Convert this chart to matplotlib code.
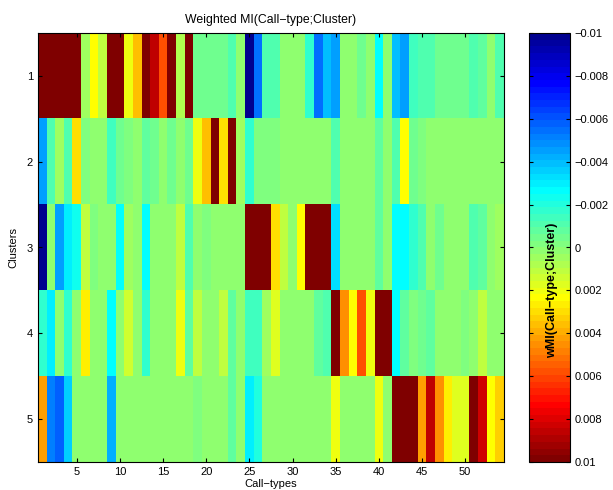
import numpy as np
import matplotlib
matplotlib.use('Agg')
import matplotlib.pyplot as plt
from matplotlib.colors import ListedColormap

plt.rcParams['font.family'] = ['Liberation Sans', 'DejaVu Sans']
plt.rcParams['font.size'] = 8

# weighted MI per cluster (rows) and call-type (columns 1..54)
call_types = np.arange(1, 55)
clusters = [1, 2, 3, 4, 5]

row1 = [0.01, 0.01, 0.01, 0.01, 0.01, 0.0004, 0.0023, 0.001, 0.01, 0.01,
        0.0019, 0.0036, 0.01, 0.0087, 0.0058, 0.01, 0.0008, 0.01, -0.0006, -0.0006,
        -0.0006, -0.0006, -0.0012, 0.0002, -0.01, -0.0055, -0.0012, -0.0011, 0, 0,
        0, -0.0017, -0.0055, -0.0039, -0.0046, 0.0002, 0, -0.0006, 0.0002, -0.0026,
        0.0001, -0.0039, -0.0046, -0.0014, -0.0011, -0.0011, -0.0006, -0.0006, -0.0006, -0.0006,
        -0.0012, -0.0008, 0.0002, -0.001]
row2 = [-0.0045, -0.0011, 0.0004, -0.0011, 0.003, -0.0002, 0, 0, -0.0014, -0.0005,
        -0.0002, 0, -0.0008, -0.0004, 0, -0.0005, 0, -0.0005, 0.002, 0.0036,
        0.01, 0.003, 0.01, 0.0006, -0.0017, -0.0003, -0.0003, -0.0002, 0, 0,
        0, 0, 0, 0, -0.0011, 0, 0, 0, 0, -0.0008,
        0, -0.0011, 0.0023, -0.0005, -0.0003, 0, 0, 0, 0, 0,
        0, 0, 0, 0]
row3 = [-0.0098, 0, -0.0046, -0.003, -0.0023, 0.0011, -0.0003, 0, 0, -0.0026,
        0.0004, 0, -0.0026, 0, 0, 0, 0.001, -0.0011, 0, -0.0003,
        0, 0, 0, 0, 0.01, 0.01, 0.01, 0.003, 0.0011, 0,
        0.0023, 0.01, 0.01, 0.01, -0.0033, 0, 0, 0, 0, -0.0008,
        0, -0.0026, -0.0026, -0.0017, -0.0011, 0, -0.0005, 0, 0, 0,
        -0.0011, -0.0008, 0, 0.0005]
row4 = [-0.0017, -0.003, 0, -0.0017, 0, 0.0027, 0, 0, -0.0026, 0,
        0.0014, 0, -0.0017, 0, 0, 0, 0.002, -0.0008, 0.0011, 0,
        0, 0.001, -0.0008, 0, -0.0015, -0.0015, 0.0005, 0.0018, 0, 0.0003,
        0, 0, -0.0008, -0.0011, 0.01, 0.0045, 0.0023, 0.0058, 0.002, 0.01,
        0.01, -0.0026, -0.0008, -0.0002, -0.0005, -0.0008, 0, 0, 0, -0.0002,
        0, 0.0011, 0, 0]
row5 = [0.0042, -0.0052, -0.0058, -0.0036, 0, 0, 0, 0, -0.0042, 0,
        0, 0, 0, 0, 0, 0, 0, 0, -0.0002, 0,
        0, 0, -0.0008, 0, -0.0029, -0.002, 0, 0, 0, 0,
        0, 0, 0, 0, 0.002, 0, 0, 0, 0, 0.002,
        0, 0.01, 0.01, 0.01, 0.0042, 0.0087, 0.0045, 0.0026, 0.0017, 0.0017,
        0.01, 0.0084, 0.0023, 0.0033]

cbar_ticks = [-0.01, -0.008, -0.006, -0.004, -0.002, 0, 0.002, 0.004, 0.006, 0.008, 0.01]
cbar_labels = ['\u22120.01', '\u22120.008', '\u22120.006', '\u22120.004', '\u22120.002', '0',
               '0.002', '0.004', '0.006', '0.008', '0.01']


def matlab_jet(n=64):
    m = int(np.ceil(n / 4))
    u = np.concatenate([np.arange(1, m + 1) / m, np.ones(m - 1), np.arange(m, 0, -1) / m])
    g = int(np.ceil(m / 2)) - (1 if n % 4 == 1 else 0) + np.arange(1, len(u) + 1)
    r = g + m
    b = g - m
    g = g[g <= n]
    r = r[r <= n]
    b = b[b >= 1]
    J = np.zeros((n, 3))
    J[r - 1, 0] = u[:len(r)]
    J[g - 1, 1] = u[:len(g)]
    J[b - 1, 2] = u[len(u) - len(b):]
    return ListedColormap(J)


data = np.array([row1, row2, row3, row4, row5])

fig = plt.figure(figsize=(6.13, 4.9), dpi=100)
ax = fig.add_axes([38 / 613, 28 / 490, 466 / 613, 429 / 490])
im = ax.imshow(data, cmap=matlab_jet(64), vmin=-0.01, vmax=0.01, aspect='auto',
               interpolation='nearest',
               extent=(call_types[0] - 0.5, call_types[-1] + 0.5, len(clusters) + 0.5, 0.5))
ax.set_xticks([5, 10, 15, 20, 25, 30, 35, 40, 45, 50])
ax.set_yticks(clusters)
ax.tick_params(direction='in', top=True, right=True, length=3)
ax.set_title('Weighted MI(Call\u2212type;Cluster)', fontsize=8.8, pad=7)
ax.set_xlabel('Call\u2212types', labelpad=1.5)
ax.set_ylabel('Clusters', labelpad=6)

cax = fig.add_axes([529 / 613, 28 / 490, 41 / 613, 429 / 490])
cb = fig.colorbar(im, cax=cax)
cb.set_ticks(cbar_ticks)
cb.set_ticklabels(cbar_labels)
cax.invert_yaxis()
cax.tick_params(direction='in', left=True, right=True, length=3)
cb.outline.set_linewidth(0.8)
cax.text(0.55, 0.40, 'wMI(Call\u2212type;Cluster)', transform=cax.transAxes, rotation=90,
         ha='center', va='center', fontsize=9, fontweight='bold')

fig.savefig('out.png', dpi=100)
